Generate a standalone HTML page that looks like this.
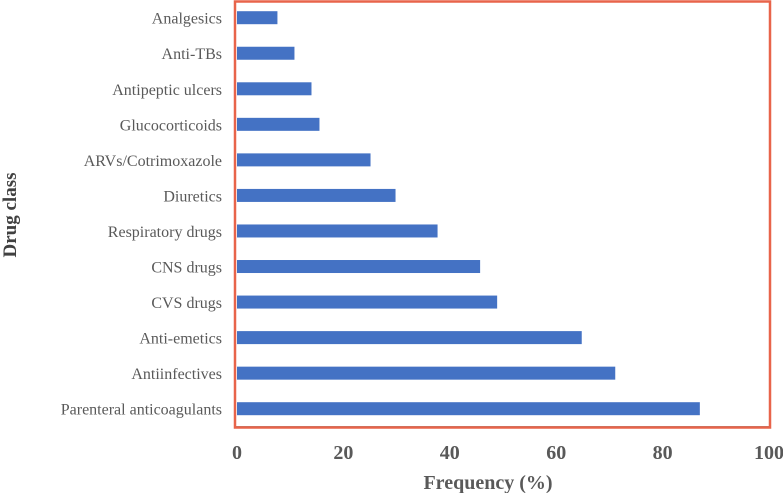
<!DOCTYPE html>
<html><head><meta charset="utf-8"><style>
body{margin:0;background:#fff;}
svg{display:block;}
text{font-family:"Liberation Serif","Times New Roman","DejaVu Serif",serif;}
</style></head><body>
<svg width="783" height="493">
<g id="g"></g>
</svg>
<script>
const categories=["Analgesics","Anti-TBs","Antipeptic ulcers","Glucocorticoids","ARVs/Cotrimoxazole","Diuretics","Respiratory drugs","CNS drugs","CVS drugs","Anti-emetics","Antiinfectives","Parenteral anticoagulants"];
const values=[7.6,10.8,14.0,15.5,25.1,29.8,37.7,45.7,48.9,64.8,71.1,87.0];
const ticks=[0,20,40,60,80,100];
const NS="http://www.w3.org/2000/svg";
const g=document.getElementById('g');
const x0=237,x1=769,yTop=17.7,yStep=(408.7-17.7)/11,bh=13;
const xs=v=>x0+(x1-x0)*v/100;
const ys=i=>yTop+i*yStep;
function mk(t,a,txt){const e=document.createElementNS(NS,t);for(const k in a)e.setAttribute(k,a[k]);if(txt!=null)e.textContent=txt;g.appendChild(e);return e;}
categories.forEach((c,i)=>{
 const r=mk('rect',{x:x0,y:ys(i)-bh/2,width:xs(values[i])-x0,height:bh,fill:'#4472c4'});
 
 
 const t=mk('text',{x:222,y:ys(i)+6,'text-anchor':'end','font-size':16,fill:'#595959'},c);
 
 
});
const ax=mk('line',{x1:x0-1,y1:427,x2:x1,y2:427,stroke:'#222','stroke-width':1.5});


ticks.forEach(v=>{
 const t=mk('text',{x:xs(v),y:459,'text-anchor':'middle','font-size':20,'font-weight':'bold',fill:'#595959'},String(v));
 
 
});
const b=mk('rect',{x:235,y:1.5,width:535,height:426,fill:'none',stroke:'#e8644a','stroke-width':2.5});


const xt=mk('text',{x:488,y:489,'text-anchor':'middle','font-size':20,'font-weight':'bold',fill:'#595959'},'Frequency (%)');


const yt=mk('text',{x:0,y:0,transform:'translate(16,215) rotate(-90)','text-anchor':'middle','font-size':19,'font-weight':'bold',fill:'#404040'},'Drug class');


</script>
</body></html>
